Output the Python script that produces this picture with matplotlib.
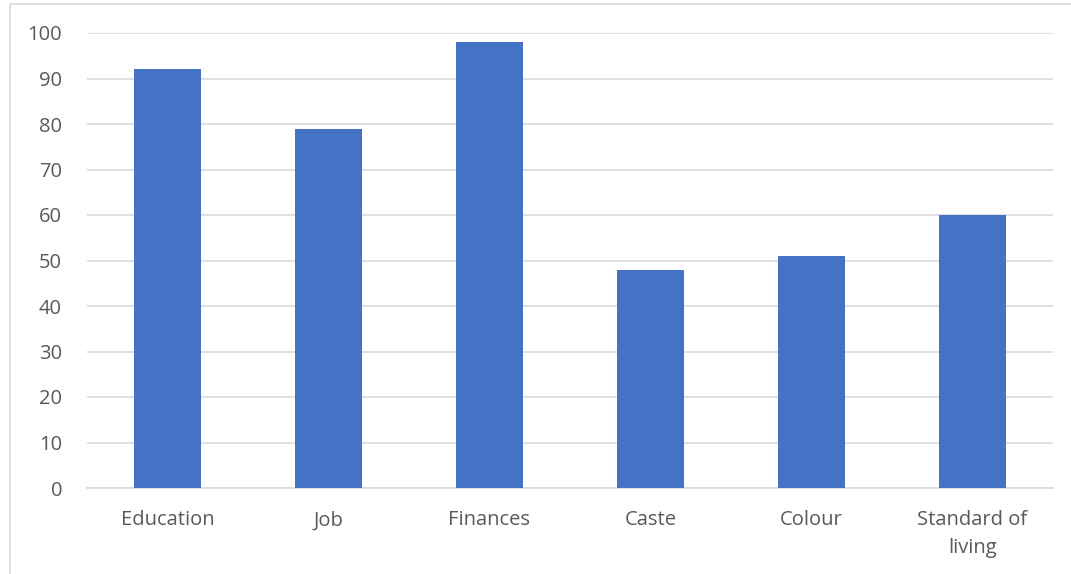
import matplotlib.pyplot as plt
from matplotlib.patches import Rectangle

categories = ["Education", "Job", "Finances", "Caste", "Colour", "Standard of\nliving"]
values = [92, 79, 98, 48, 51, 60]
yticks = [0, 10, 20, 30, 40, 50, 60, 70, 80, 90, 100]

BAR_COLOR = "#4472C4"
TEXT_COLOR = "#595959"
GRID_COLOR = "#D9D9D9"

plt.rcParams["font.family"] = ["Open Sans", "DejaVu Sans"]

fig = plt.figure(figsize=(10.71, 5.74), dpi=100)
ax = fig.add_axes([87 / 1071, 1 - 488 / 574, (1053 - 87) / 1071, (488 - 33) / 574])

x = list(range(len(categories)))
ax.bar(x, values, width=0.415, color=BAR_COLOR, zorder=3)

ax.set_xlim(-0.5, len(categories) - 0.5)
ax.set_ylim(0, 100)
ax.set_yticks(yticks)
ax.set_xticks(x)
ax.set_xticklabels(categories, linespacing=1.5)
ax.grid(axis="y", color=GRID_COLOR, linewidth=1.2, zorder=0)
ax.tick_params(axis="both", length=0, labelsize=14.5, colors=TEXT_COLOR)
ax.tick_params(axis="x", pad=16)
ax.tick_params(axis="y", pad=18)
for side in ["top", "right", "left"]:
    ax.spines[side].set_visible(False)
ax.spines["bottom"].set_color(GRID_COLOR)
ax.spines["bottom"].set_linewidth(1.2)

# chart-area border (cropped on right/bottom)
fig.patches.append(Rectangle((10 / 1071, -0.1), 1.2, (574 - 4) / 574 + 0.1,
                             transform=fig.transFigure, fill=False,
                             edgecolor=GRID_COLOR, linewidth=1.2))

fig.savefig("out.png", dpi=100)
